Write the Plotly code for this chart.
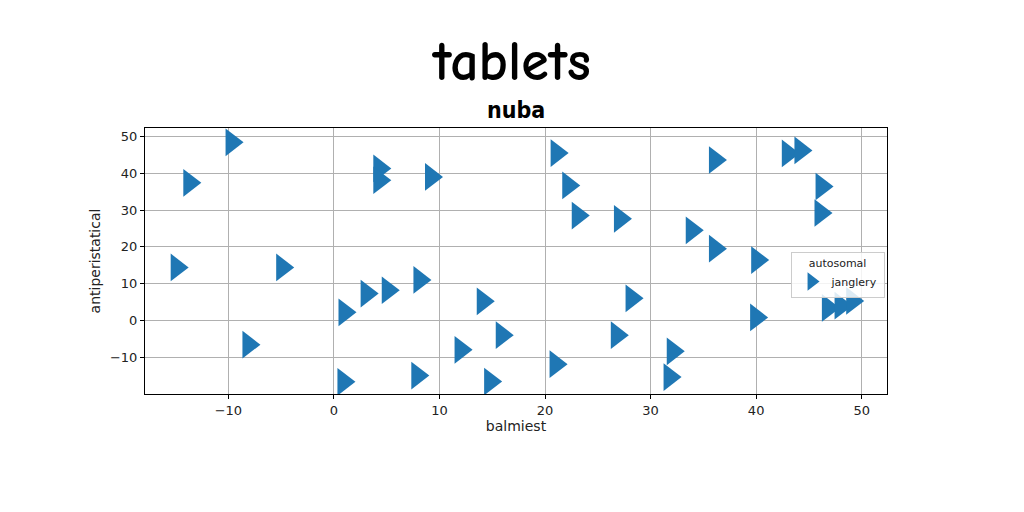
import plotly.graph_objects as go

x_vals = [-9.7, -13.7, 4.3, 4.3, 9.2, -14.9, -4.9, 1.0, 3.1, 5.1, 8.1, 14.1, -8.1, 12.0,
          0.9, 7.9, 14.8, 15.9, 21.1, 22.2, 23.1, 27.1, 21.0, 26.8, 28.2, 32.1, 31.8,
          33.9, 36.1, 36.1, 40.1, 40.0, 43.0, 44.2, 46.2, 46.1, 46.8, 48.0, 49.1]
y_vals = [48.4, 37.4, 41.3, 38.1, 39.0, 14.4, 14.4, 2.2, 7.3, 8.2, 11.0, 5.2, -6.6, -8.0,
          -16.7, -15.0, -16.6, -4.0, 45.5, 36.7, 28.5, 27.6, -11.9, -4.0, 6.0, -8.4, -15.4,
          24.5, 19.5, 43.6, 16.4, 0.8, 45.4, 46.2, 36.4, 29.2, 3.4, 4.0, 5.3]

series_name = "janglery"
legend_title = "autosomal"
title_text = "tablets"
subtitle_text = "nuba"
x_label = "balmiest"
y_label = "antiperistatical"
x_ticks = [-10, 0, 10, 20, 30, 40, 50]
y_ticks = [-10, 0, 10, 20, 30, 40, 50]

fig = go.Figure()
fig.add_trace(go.Scatter(
    x=x_vals, y=y_vals, mode="markers", name=series_name,
    marker=dict(symbol="triangle-right", size=24, color="#1f77b4", line=dict(width=0)),
))

axis_common = dict(
    showgrid=True, gridcolor="#b0b0b0", gridwidth=1,
    showline=True, linecolor="black", linewidth=1, mirror=True,
    ticks="outside", ticklen=4, tickcolor="black",
    zeroline=False,
    tickfont=dict(family="DejaVu Sans", size=13, color="#222"),
)

fig.update_layout(
    width=1024, height=512,
    paper_bgcolor="white", plot_bgcolor="white",
    margin=dict(l=145, r=137, t=128, b=118),
    title=dict(
        text=f"<b>{title_text}</b>",
        x=0.5, xanchor="center", y=1 - 60 / 512, yanchor="middle",
        font=dict(family="Comic Sans MS, \"Comic Neue\", Lato, sans-serif", size=56, color="black"),
    ),
    annotations=[dict(
        text=f"<b>{subtitle_text}</b>", xref="paper", yref="paper",
        x=0.5, y=(394 - 110) / 266, xanchor="center", yanchor="middle", showarrow=False,
        font=dict(family="Impact, \"Liberation Sans Narrow\", \"DejaVu Sans Condensed\", sans-serif",
                  size=23, color="black"),
    )],
    xaxis=dict(axis_common, range=[-17.9, 52.4], tickvals=x_ticks,
               title=dict(text=x_label, font=dict(family="DejaVu Sans", size=14, color="#222"), standoff=4)),
    yaxis=dict(axis_common, range=[-20, 52.3], tickvals=y_ticks,
               title=dict(text=y_label, font=dict(family="DejaVu Sans", size=14, color="#222"), standoff=6)),
    showlegend=True,
    legend=dict(
        title=dict(text=legend_title, font=dict(family="DejaVu Sans", size=11, color="#222"), side="top center"),
        font=dict(family="DejaVu Sans", size=11, color="#222"),
        x=0.87, y=0.535, xanchor="left", yanchor="top",
        bgcolor="rgba(255,255,255,0.85)", bordercolor="#cccccc", borderwidth=1,
    ),
)

fig.write_html("out.html")
